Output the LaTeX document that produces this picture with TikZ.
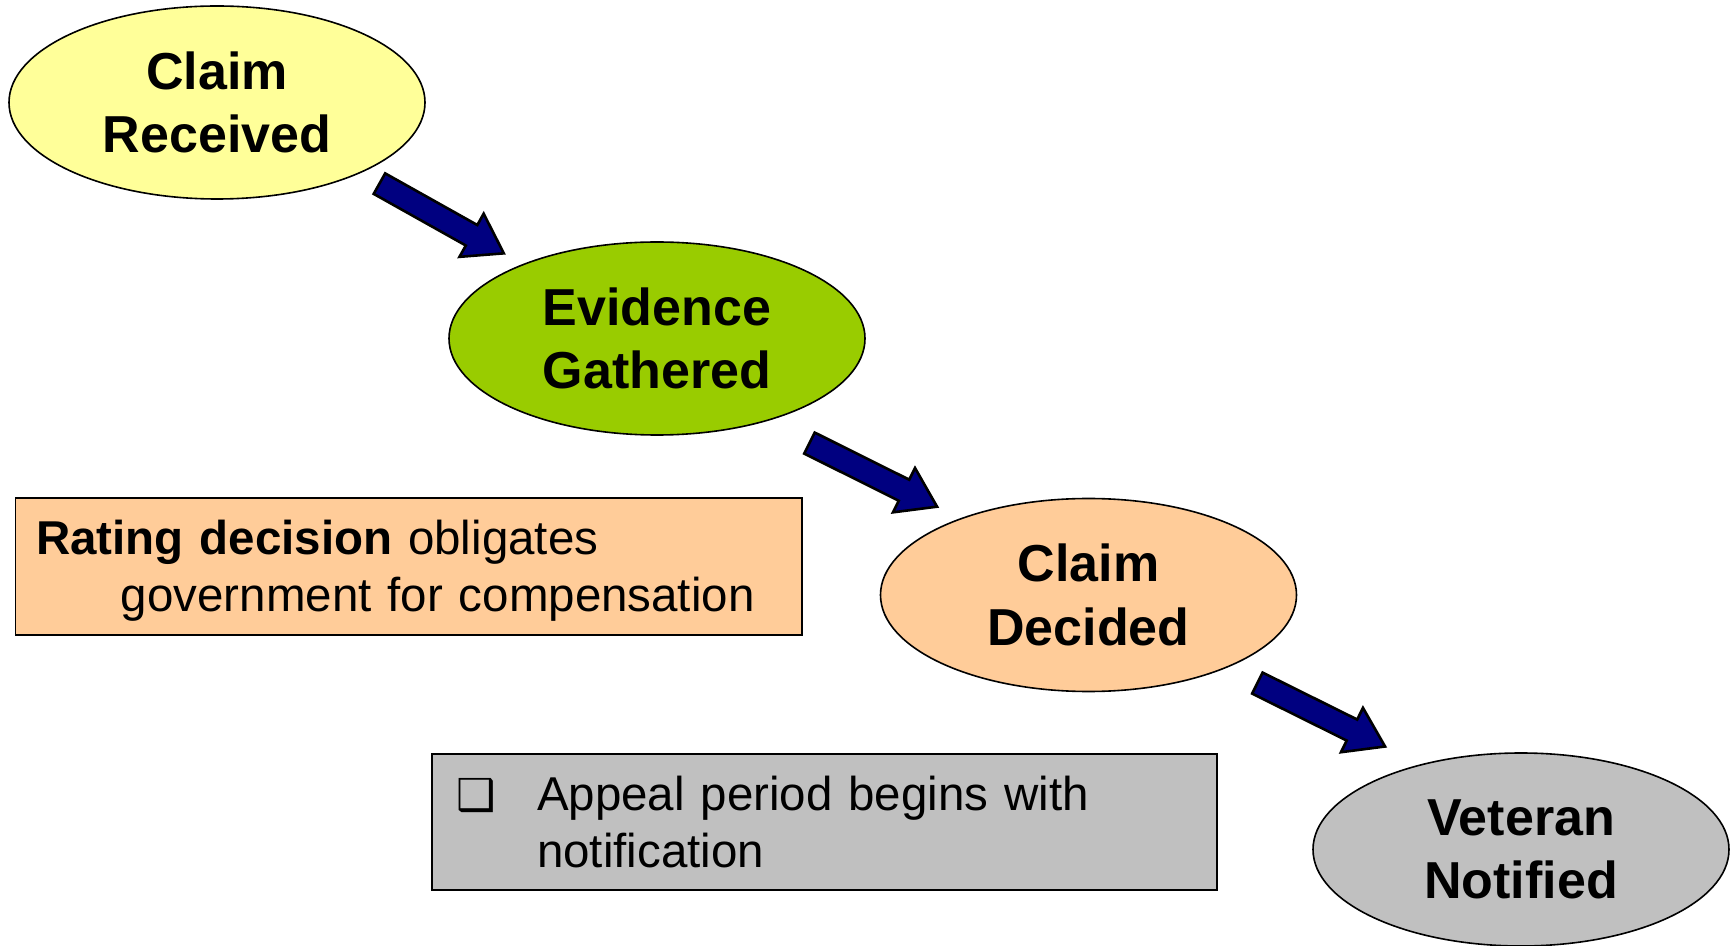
\documentclass[tikz,border=0pt]{standalone}
\usepackage{fontspec}
\setmainfont{Liberation Sans}
\newfontfamily\dingfont{DejaVu Sans}
\usepackage{tikz}
\usetikzlibrary{positioning,shapes.geometric,shapes.arrows}
\definecolor{recvd}{HTML}{FFFF99}
\definecolor{gathr}{HTML}{99CC00}
\definecolor{decid}{HTML}{FFCC99}
\definecolor{notif}{HTML}{C0C0C0}
\definecolor{arrw}{HTML}{000080}

\begin{document}
\begin{tikzpicture}[x=0.5pt,y=-0.5pt,
            stage/.style = {ellipse, draw=black, line width=0.8pt, inner sep=0pt,
                   minimum width=208pt, minimum height=96.5pt, align=center,
                   font=\fontsize{26pt}{31.7pt}\selectfont\bfseries},
            note/.style = {rectangle, draw=black, line width=0.9pt, align=left,
                   inner ysep=0pt, font=\fontsize{23.75pt}{28.5pt}\selectfont},
            fatarrow/.style = {single arrow, draw=black, fill=arrw, line width=1.3pt,
                   inner sep=0pt, minimum height=71.3pt, single arrow head extend=6.5pt,
                   single arrow tip angle=67.6, sloped, pos=0, anchor=tail}
        ]
            \useasboundingbox (0,0) rectangle (1736,946);
            \node [stage, fill=recvd] (recv) at (217,102.5) {Claim\\Received};
            \node [stage, fill=gathr] (gath) at ([shift={(440,236)}]recv) {Evidence\\Gathered};
            \node [stage, fill=decid] (decd) at ([shift={(431.5,256.5)}]gath) {Claim\\Decided};
            \node [stage, fill=notif] (noti) at ([shift={(432.5,254.5)}]decd) {Veteran\\Notified};

            \node [note, fill=decid, inner xsep=10.25pt, text width=372.75pt, minimum height=68.5pt]
                  (rating) at (408.75,566.5)
                  {\rule{0pt}{21.5pt}\textbf{Rating decision} obligates\\
                   \hspace*{42.5pt}government for compensation};
            \node [note, fill=notif, inner xsep=12.35pt, text width=367.8pt, minimum height=68pt]
                  (appeal) at (824.5,822)
                  {\makebox[40.15pt][l]{\dingfont\fontsize{22pt}{22pt}\selectfont ❑}Appeal period begins with\\
                   \hspace*{40.15pt}notification};

            % Draw edges
            \coordinate (a1s) at (378.3,183);   \coordinate (a1e) at (505,254);
            \coordinate (a2s) at (808.3,442.5); \coordinate (a2e) at (938.3,507.3);
            \coordinate (a3s) at (1256.2,682.5);\coordinate (a3e) at (1386.7,747.3);
            \path (a1s) -- node [fatarrow] {\rule{0pt}{10.45pt}} (a1e);
            \path (a2s) -- node [fatarrow] {\rule{0pt}{10.45pt}} (a2e);
            \path (a3s) -- node [fatarrow] {\rule{0pt}{10.45pt}} (a3e);
        \end{tikzpicture}
\end{document}
